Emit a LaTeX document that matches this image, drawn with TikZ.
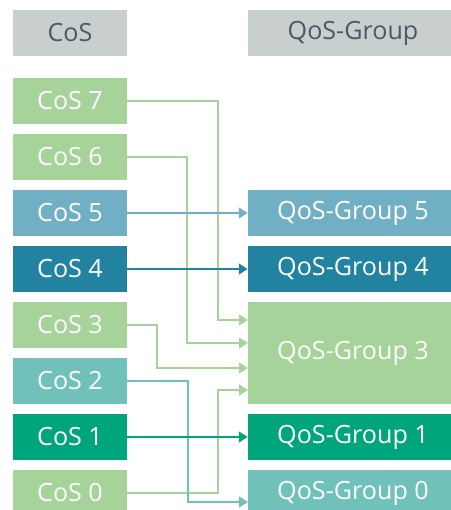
\documentclass[tikz,border=0pt]{standalone}
\usepackage{fontspec}
\setmainfont{Open Sans}
\usetikzlibrary{arrows.meta}
\definecolor{headgray}{HTML}{C9CFCF}
\definecolor{headtext}{HTML}{4A5A64}
\definecolor{lgreen}{HTML}{A5D399}
\definecolor{steel}{HTML}{71B0C4}
\definecolor{petrol}{HTML}{21839F}
\definecolor{aqua}{HTML}{70C1B9}
\definecolor{jade}{HTML}{00A57C}
\tikzset{
  cosbox/.style={fill=#1, text=white, minimum width=2.28cm, minimum height=0.92cm,
    inner sep=0pt, font=\fontsize{14.3}{16}\selectfont},
  qosbox/.style={cosbox=#1, minimum width=4.2cm},
  headbox/.style={fill=headgray, text=headtext, minimum height=0.92cm,
    inner sep=0pt, font=\fontsize{14.3}{16}\selectfont},
  link/.style={line width=1.3pt, draw=#1, -{Triangle[length=5pt,width=6pt]}}
}
\begin{document}
\begin{tikzpicture}[x=0.02cm,y=-0.02cm]
  \useasboundingbox (0,0) rectangle (450,510);
  % headers
  \node[headbox, minimum width=2.28cm] (hc) at (70,33) {CoS};
  \node[headbox, minimum width=4.2cm] (hq) at (353,33) {QoS-Group};
  % CoS column
  \node[cosbox=lgreen] (c7) at (70,101) {CoS 7};
  \node[cosbox=lgreen] (c6) at (70,157) {CoS 6};
  \node[cosbox=steel]  (c5) at (70,213) {CoS 5};
  \node[cosbox=petrol] (c4) at (70,269) {CoS 4};
  \node[cosbox=lgreen] (c3) at (70,325) {CoS 3};
  \node[cosbox=aqua]   (c2) at (70,381) {CoS 2};
  \node[cosbox=jade]   (c1) at (70,437) {CoS 1};
  \node[cosbox=lgreen] (c0) at (70,493) {CoS 0};
  % QoS-Group column
  \node[qosbox=steel]  (q5) at (353,213) {QoS-Group 5};
  \node[qosbox=petrol] (q4) at (353,269) {QoS-Group 4};
  \node[qosbox=lgreen, minimum height=2.04cm] (q3) at (353,353) {QoS-Group 3};
  \node[qosbox=jade]   (q1) at (353,437) {QoS-Group 1};
  \node[qosbox=aqua]   (q0) at (353,493) {QoS-Group 0};
  % entry points
  \coordinate (in7) at (248,320);
  \coordinate (in6) at (248,343);
  \coordinate (in3) at (248,368);
  \coordinate (in0) at (248,390);
  \coordinate (in2) at (248,502);
  % mappings
  \draw[link=lgreen] (c7.east) -| (218,320) -- (in7);
  \draw[link=lgreen] (c6.east) -| (187,343) -- (in6);
  \draw[link=lgreen] (c3.east) -| (157,368) -- (in3);
  \draw[link=lgreen] (c0.east) -| (218,390) -- (in0);
  \draw[link=aqua] (c2.east) -| (188,502) -- (in2);
  \draw[link=jade] (c1.east) -- (q1.west);
  \draw[link=petrol] (c4.east) -- (q4.west);
  \draw[link=steel] (c5.east) -- (q5.west);
\end{tikzpicture}
\end{document}
